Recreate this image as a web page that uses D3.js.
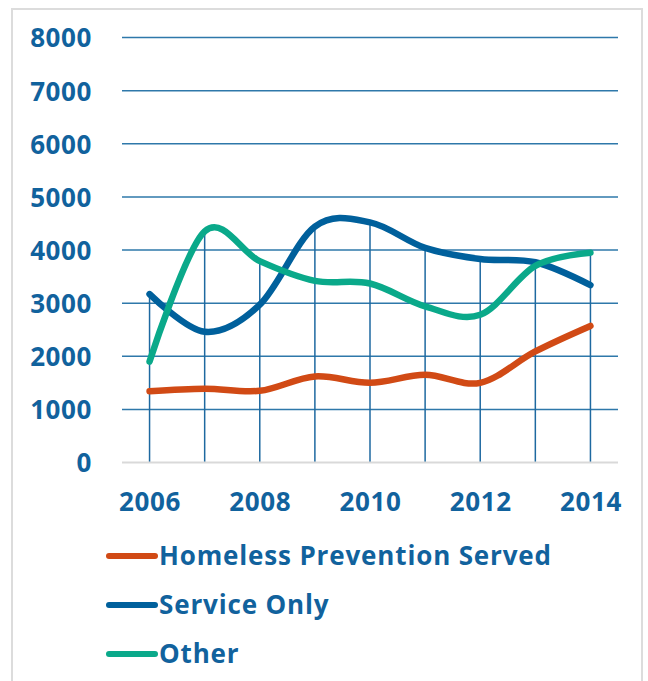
<!DOCTYPE html>
<html>
<head>
<meta charset="utf-8">
<script src="https://cdn.jsdelivr.net/npm/d3@7"></script>
<style>
  html, body { margin: 0; padding: 0; background: #fff; }
  svg { display: block; }
  text { font-family: "Open Sans", Lato, sans-serif; font-weight: 700; fill: #11629d; }
</style>
</head>
<body>
<svg id="chart" width="648" height="681"></svg>
<script>
// Clients served per year, by service type
const years = [2006, 2007, 2008, 2009, 2010, 2011, 2012, 2013, 2014];
const homelessPrevention = [1340, 1390, 1350, 1620, 1500, 1650, 1500, 2090, 2570];
const serviceOnly        = [3170, 2460, 2970, 4440, 4520, 4040, 3830, 3770, 3340];
const other              = [1900, 4350, 3790, 3420, 3370, 2940, 2780, 3700, 3950];

const yTicks = [0, 1000, 2000, 3000, 4000, 5000, 6000, 7000, 8000];
const xTickLabels = [2006, 2008, 2010, 2012, 2014];

const series = [
  { name: "Homeless Prevention Served", values: homelessPrevention, color: "#d14a15" },
  { name: "Service Only",               values: serviceOnly,        color: "#00609c" },
  { name: "Other",                      values: other,              color: "#0aa98a" }
];

const FONT = "'Open Sans', Lato, sans-serif";

const svg = d3.select("#chart");

// outer frame
svg.append("rect")
  .attr("x", 12).attr("y", 9)
  .attr("width", 630).attr("height", 700)
  .attr("fill", "none")
  .attr("stroke", "#dcdcdc")
  .attr("stroke-width", 2);

const x = d3.scalePoint().domain(years).range([122, 618]).padding(0.5);
const y = d3.scaleLinear().domain([0, 8000]).range([462.5, 37.5]);

// horizontal gridlines
svg.append("g").selectAll("line")
  .data(yTicks.filter(d => d > 0))
  .join("line")
  .attr("x1", 122).attr("x2", 618)
  .attr("y1", d => y(d)).attr("y2", d => y(d))
  .attr("stroke", "#2e78aa")
  .attr("stroke-width", 1.5);

// drop lines from each year's highest value to the axis
svg.append("g").selectAll("line")
  .data(years)
  .join("line")
  .attr("x1", d => x(d)).attr("x2", d => x(d))
  .attr("y1", (d, i) => y(d3.max(series, s => s.values[i])))
  .attr("y2", y(0))
  .attr("stroke", "#1e69a0")
  .attr("stroke-width", 1.5);

// baseline
svg.append("line")
  .attr("x1", 122).attr("x2", 618)
  .attr("y1", y(0)).attr("y2", y(0))
  .attr("stroke", "#d9d9d9")
  .attr("stroke-width", 2);

// y axis labels
const yAxis = d3.axisLeft(y).tickValues(yTicks).tickSize(0).tickPadding(0).tickFormat(d3.format("d"));
svg.append("g")
  .attr("transform", "translate(92,0)")
  .call(yAxis)
  .call(g => g.select(".domain").remove())
  .call(g => g.selectAll("text")
    .attr("font-size", 26)
    .attr("dy", "0.36em")
    .attr("fill", "#11629d")
    .style("font-family", FONT)
    .style("font-weight", 700)
    .style("letter-spacing", "0.6px"));

// x axis labels
const xAxis = d3.axisBottom(x).tickValues(xTickLabels).tickSize(0).tickPadding(0);
svg.append("g")
  .attr("transform", "translate(0,511)")
  .call(xAxis)
  .call(g => g.select(".domain").remove())
  .call(g => g.selectAll("text")
    .attr("font-size", 26)
    .attr("dy", 0)
    .attr("y", 0)
    .attr("fill", "#11629d")
    .style("font-family", FONT)
    .style("font-weight", 700)
    .style("letter-spacing", "0.6px"));

// smoothed series lines
const line = d3.line()
  .x((d, i) => x(years[i]))
  .y(d => y(d))
  .curve(d3.curveCardinal.tension(0));

svg.append("g").selectAll("path")
  .data(series)
  .join("path")
  .attr("d", s => line(s.values))
  .attr("fill", "none")
  .attr("stroke", s => s.color)
  .attr("stroke-width", 6.5)
  .attr("stroke-linecap", "round")
  .attr("stroke-linejoin", "round");

// legend
const legend = svg.append("g").selectAll("g")
  .data(series)
  .join("g")
  .attr("transform", (d, i) => `translate(0,${556 + i * 49})`);

legend.append("line")
  .attr("x1", 109).attr("x2", 155)
  .attr("y1", 0).attr("y2", 0)
  .attr("stroke", d => d.color)
  .attr("stroke-width", 6)
  .attr("stroke-linecap", "round");

legend.append("text")
  .attr("x", 159)
  .attr("y", 0)
  .attr("dy", "0.36em")
  .attr("font-size", 26)
  .style("font-family", FONT)
  .style("letter-spacing", "0.85px")
  .text(d => d.name);
</script>
</body>
</html>
